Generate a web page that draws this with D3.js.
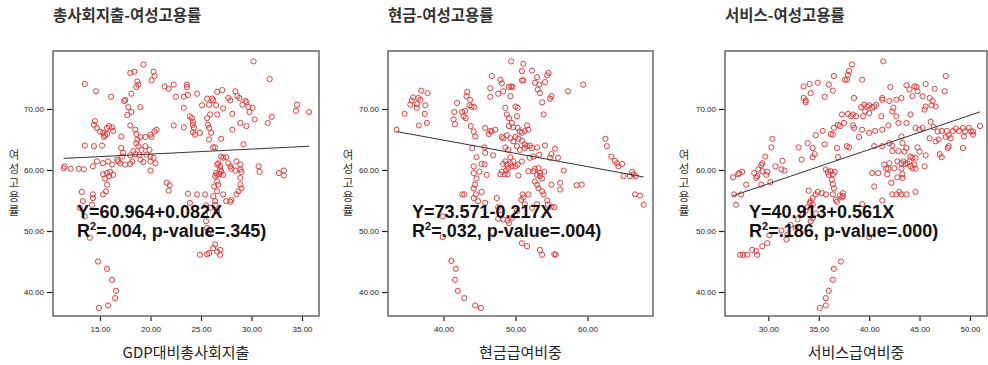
<!DOCTYPE html>
<html>
<head>
<meta charset="utf-8">
<script src="https://cdn.jsdelivr.net/npm/d3@7"></script>
<style>
  body { margin: 0; background: #fff; }
  svg { display: block; }
</style>
</head>
<body>
<svg id="chart" width="988" height="365"></svg>
<script>
// ---- data ----
const titles = ["총사회지출-여성고용률", "현금-여성고용률", "서비스-여성고용률"];
const xLabels = ["GDP대비총사회지출", "현금급여비중", "서비스급여비중"];
const yLabel = "여성고용률";
const yTicks = [40, 50, 60, 70];
const xTicks = [[15, 20, 25, 30, 35], [40, 50, 60], [30, 35, 40, 45, 50]];
const intercepts = [60.964, 73.571, 40.913];
const slopes = [0.082, -0.217, 0.561];
const eqTexts = ["Y=60.964+0.082X", "Y=73.571-0.217X", "Y=40.913+0.561X"];
const r2Texts = [".004", ".032", ".186"];
const pTexts = [".345", ".004", ".000"];

// 총사회지출 (% of GDP) vs 여성고용률
const spendPts = [
  [30.2,77.8],[19.3,77.3],[31.8,74.9],[18.0,75.9],[18.4,76.1],[20.3,76.1],[20.4,75.4],[20.1,74.7],[13.5,74.1],[14.6,72.9],
  [16.1,72.0],[18.7,74.5],[18.8,74.0],[18.6,73.6],[18.1,72.5],[17.5,71.5],[17.4,71.3],[17.8,70.3],[19.0,70.3],[21.4,73.7],
  [21.8,73.3],[22.3,74.0],[23.6,74.0],[23.6,73.6],[22.5,72.0],[23.3,72.0],[23.7,72.3],[24.6,72.5],[25.6,71.7],[26.1,71.7],
  [26.2,71.4],[26.6,72.8],[27.1,73.1],[25.1,70.6],[25.8,70.7],[26.5,70.6],[27.2,70.1],[27.7,71.8],[27.9,71.4],[28.4,72.9],
  [28.6,72.1],[28.8,71.8],[29.4,71.3],[29.5,71.1],[29.1,70.7],[29.7,70.3],[30.1,70.2],[29.8,69.5],[28.1,69.2],[30.3,68.3],
  [23.3,70.2],[23.9,68.8],[24.1,68.5],[25.9,69.1],[26.6,69.1],[34.5,70.7],[34.4,69.7],[35.7,69.5],[32.0,68.7],[31.6,67.7],
  [28.9,67.7],[29.5,67.2],[17.7,69.0],[18.1,69.5],
  [14.5,68.0],[14.4,67.4],[14.7,66.9],[15.0,66.3],[15.3,66.1],[15.5,65.7],[15.7,66.9],[15.9,67.2],[16.2,67.0],[16.3,66.4],
  [15.4,65.4],[15.7,65.9],[17.1,65.5],[18.0,67.3],[18.5,66.6],[18.6,65.9],[19.0,65.4],[19.5,65.4],[20.0,65.8],[20.4,66.3],
  [20.6,66.6],[20.1,65.4],[18.7,65.0],[18.6,64.4],[18.8,63.9],[19.1,63.3],[19.5,63.9],[19.9,63.3],[19.6,62.5],[20.0,62.2],
  [20.3,62.0],[17.1,63.6],[17.3,62.8],[17.2,62.2],[18.0,62.4],[18.3,63.1],[18.5,62.6],[18.9,62.5],[13.5,64.0],[14.4,63.9],
  [15.2,64.0],[22.3,67.3],[23.3,67.0],[24.2,67.9],[24.2,67.4],[24.3,66.9],[24.2,66.2],[24.4,65.8],[24.9,66.1],[25.6,68.5],
  [25.7,67.4],[25.8,66.9],[26.0,66.1],[25.8,65.0],[26.2,63.7],[26.4,63.7],[27.0,65.1],[28.1,66.6],[29.2,64.2],[27.0,62.2],
  [27.2,62.0],[27.5,62.1],
  [11.4,60.3],[11.5,60.6],[12.1,60.2],[12.9,60.2],[13.4,60.1],[14.3,60.6],[14.7,61.4],[15.3,61.1],[15.8,61.4],[16.2,60.9],
  [16.8,61.4],[16.7,61.7],[17.0,61.1],[17.5,60.9],[18.0,61.0],[18.2,61.4],[19.0,61.7],[19.3,61.3],[20.0,61.4],[20.5,61.1],
  [20.0,59.9],[15.3,59.3],[15.7,59.5],[16.0,59.7],[15.9,59.0],[16.3,59.2],[26.6,60.9],[26.7,61.1],[26.9,60.6],[26.9,60.1],
  [26.5,59.5],[26.6,59.2],[26.8,59.3],[27.0,59.7],[26.4,59.0],[27.2,59.2],[27.9,60.6],[27.7,61.1],[28.0,60.2],[28.4,59.9],
  [28.5,61.4],[28.9,60.9],[28.9,60.1],[29.0,59.7],[30.7,60.6],[30.8,59.7],[32.7,59.5],[33.2,59.9],[33.2,59.1],
  [15.5,58.6],[15.7,57.6],[15.6,56.5],[15.3,56.0],[14.3,56.0],[14.3,55.4],[13.2,56.4],[13.3,54.9],[14.2,54.3],[13.0,53.8],
  [13.5,52.4],[21.6,57.9],[21.9,57.5],[21.8,56.6],[23.7,56.1],[23.9,54.6],[24.6,56.0],[25.4,56.0],[25.5,54.2],[25.9,53.8],
  [26.2,55.7],[26.4,54.9],[26.4,54.3],[26.6,53.2],[26.3,57.3],[26.6,56.5],[26.6,58.1],[26.7,57.6],[27.2,56.0],[27.5,54.9],
  [27.9,54.8],[28.0,55.1],[28.5,56.0],[28.7,56.5],[28.9,57.6],[28.9,58.7],[29.0,57.0],
  [14.0,48.9],[25.4,52.7],[25.5,51.6],[25.6,50.5],[25.7,49.7],[26.2,47.2],[26.4,47.8],[24.9,46.1],[25.6,46.2],[25.8,46.4],
  [26.9,46.1],[26.9,46.9],[26.6,46.6],
  [14.8,45.0],[15.7,43.8],[16.2,42.0],[16.6,40.2],[16.5,39.0],[14.9,37.4],[15.8,37.8]
];

// 현금급여비중 vs 여성고용률
const cashPts = [
  [49.4,77.8],[51.1,77.4],[50.9,76.2],[52.3,76.3],[51.1,74.7],[50.9,74.7],[54.6,75.9],[54.4,75.5],[46.7,75.4],[47.9,74.8],
  [48.1,74.2],[49.4,73.7],[49.6,73.6],[49.1,73.6],[48.3,72.9],[47.6,72.5],[46.5,73.4],[46.5,72.0],[49.3,72.1],[53.0,75.2],
  [52.7,74.3],[53.3,74.0],[54.1,74.4],[53.1,73.2],[53.4,72.6],[55.0,72.1],[54.8,71.7],[53.7,71.1],[59.4,74.0],[57.3,72.9],
  [53.9,69.1],[36.9,73.0],[37.8,72.6],[36.5,71.8],[36.8,71.5],[35.8,71.9],[35.6,71.4],[35.4,70.7],[36.3,70.8],[36.3,70.2],
  [37.5,70.6],[37.4,69.2],[37.7,67.7],[36.6,67.3],[34.6,69.2],[33.5,66.6],[43.3,72.8],[43.2,72.1],[43.7,71.5],[43.6,70.6],
  [43.9,70.4],[44.3,70.3],[41.9,71.0],[41.5,69.5],[41.4,68.3],[41.6,67.5],[42.6,69.5],[43.0,69.7],[42.8,68.8],[43.1,68.5],
  [48.6,70.2],[48.8,69.1],[49.1,68.5],[49.5,67.7],[50.0,70.4],[50.3,70.2],[50.2,68.8],[49.1,67.2],[49.7,67.0],[50.3,66.9],
  [50.6,66.3],[50.9,66.1],[51.3,66.4],[51.6,67.3],[51.8,66.6],[48.8,65.7],[49.3,65.2],[50.0,65.4],[50.4,65.1],[50.9,64.8],
  [51.3,64.2],[51.6,63.9],[52.0,64.0],[52.3,63.6],[50.2,63.9],[50.6,63.3],[51.3,63.6],[48.1,65.4],[48.3,65.2],[48.6,63.7],
  [49.0,63.3],[49.7,64.7],[45.8,66.9],[46.5,66.4],[46.7,66.3],[46.3,65.9],[47.2,66.6],[43.8,67.2],[44.2,66.3],[44.4,65.5],
  [44.0,63.6],[44.6,62.1],[45.7,63.7],[45.8,62.8],[46.9,62.4],[44.2,60.6],[53.0,63.7],[54.1,64.0],[53.3,62.5],[55.0,62.6],
  [54.8,62.0],[55.5,63.5],[55.9,62.0],[52.0,62.0],[52.5,62.2],[62.5,65.1],[62.7,63.9],[63.3,62.2],[63.8,61.5],[64.1,61.1],
  [64.8,61.0],[64.3,60.6],[65.0,59.0],[66.2,59.7],[65.9,59.0],[66.4,59.3],[66.7,59.0],[66.6,56.0],[67.3,55.8],[67.8,54.3],
  [49.3,62.1],[48.6,61.4],[48.3,61.0],[48.8,60.9],[49.3,61.1],[49.7,61.4],[50.0,60.6],[49.5,60.6],[49.0,60.3],[48.7,59.9],
  [48.1,59.7],[47.9,59.3],[48.5,59.3],[48.9,59.3],[50.4,59.1],[50.3,60.9],[50.9,61.4],[51.8,59.8],[52.5,59.8],[52.7,60.2],
  [53.2,60.3],[53.4,59.5],[53.0,59.2],[53.4,59.0],[53.7,58.6],[52.7,58.1],[53.0,57.6],[53.2,57.0],[54.0,59.7],[55.0,57.6],
  [56.7,59.9],[56.2,57.9],[56.2,56.8],[58.5,57.5],[59.2,57.6],[46.0,59.2],[45.3,61.0],[45.0,59.7],[45.7,60.9],[44.2,59.5],
  [44.6,58.6],[44.4,57.6],[44.2,57.0],[44.5,56.0],[44.2,55.4],[45.3,56.4],[42.6,56.0],[42.9,56.0],[44.8,54.9],[45.8,54.6],
  [47.4,55.4],[47.6,53.9],[47.9,52.7],[47.6,52.0],[48.3,51.9],[48.9,51.7],[49.1,51.3],[49.6,52.2],[50.2,53.3],[50.8,55.1],
  [51.1,55.5],[51.0,56.0],[51.8,56.0],[51.3,54.4],[52.3,53.8],[53.0,54.4],[53.7,56.5],[53.9,56.0],[54.4,55.0],[54.5,54.3],
  [55.0,54.0],[55.4,53.9],[39.9,52.4],[39.9,49.0],[50.9,48.0],[51.6,47.5],[53.4,46.9],[53.7,46.1],[55.4,46.2],[55.6,46.1],
  [41.1,45.1],[41.7,43.8],[41.6,42.0],[42.0,40.2],[42.9,39.0],[44.4,37.8],[45.2,37.4]
];

// 서비스급여비중 vs 여성고용률
const servicePts = [
  [41.4,77.8],[38.3,77.3],[38.0,76.2],[37.9,75.6],[37.6,74.8],[37.8,74.8],[39.3,74.8],[36.5,75.4],[36.0,74.0],[36.4,73.0],
  [35.6,72.0],[34.9,74.3],[34.1,74.1],[33.5,73.7],[34.2,72.6],[33.5,71.8],[33.7,71.4],[33.7,71.1],[39.5,70.7],[39.8,70.4],
  [40.0,70.6],[40.3,70.2],[40.5,70.4],[39.2,70.3],[39.6,69.6],[40.0,69.3],[41.3,71.8],[41.3,71.5],[42.1,73.6],[42.7,71.5],
  [43.2,71.8],[43.7,73.9],[44.0,73.2],[44.5,73.7],[44.7,73.6],[44.8,72.9],[44.3,72.1],[45.6,74.1],[45.3,72.1],[46.0,71.8],
  [46.3,71.3],[46.5,73.3],[47.5,72.9],[47.6,75.4],[46.2,70.6],[46.6,70.4],[45.6,70.4],[45.5,69.9],[44.1,69.1],[42.9,67.7],
  [42.7,68.8],[42.4,70.2],[42.3,69.6],[42.0,71.3],[40.7,70.7],[38.5,71.8],[38.4,69.1],[38.2,68.8],[37.9,69.2],[37.3,69.1],
  [36.9,67.4],[36.5,66.9],[37.1,67.2],[37.5,67.7],[38.4,67.3],[38.5,66.9],[39.3,66.6],[40.0,66.1],[39.0,65.4],[36.4,65.8],
  [36.2,65.9],[35.4,66.4],[34.7,65.7],[35.6,64.2],[36.8,63.6],[37.8,63.9],[38.0,63.7],[36.9,62.1],[38.7,68.8],[39.4,68.8],
  [41.2,68.8],[41.9,67.3],[41.3,66.6],[40.6,66.4],[41.3,63.9],[40.5,63.9],[42.0,64.4],[42.3,64.0],[43.2,65.5],[43.3,64.4],
  [43.7,63.6],[43.5,63.0],[44.8,63.7],[45.0,63.0],[44.1,62.2],[45.6,62.4],[44.6,66.9],[45.0,66.6],[45.3,66.9],[46.1,67.9],
  [46.4,67.0],[46.8,66.3],[47.2,66.4],[47.7,66.4],[47.9,65.7],[48.3,66.4],[48.6,66.8],[48.9,66.4],[49.3,66.9],[49.5,66.3],
  [49.9,66.9],[50.3,66.3],[51.0,67.2],[49.4,65.5],[50.3,65.8],[50.1,66.3],[47.6,65.4],[48.1,65.2],[47.9,63.9],[46.9,65.0],
  [46.0,65.2],[46.6,64.7],[47.0,62.6],[47.2,62.1],[49.3,63.6],[47.8,63.6],[43.7,67.7],
  [26.5,58.8],[27.0,59.3],[27.1,59.5],[27.4,59.7],[27.8,57.6],[26.6,56.0],[26.8,54.3],[27.3,56.0],[28.6,59.5],[28.9,59.0],
  [28.8,58.7],[29.0,60.1],[29.4,61.1],[29.7,62.2],[29.3,60.8],[29.4,59.8],[29.9,59.7],[29.8,59.2],[29.3,57.6],[30.2,58.0],
  [30.3,63.7],[30.4,65.1],[30.7,60.6],[31.3,60.1],[31.6,59.9],[31.4,61.5],[33.0,63.7],[33.3,61.7],[33.9,64.4],[34.4,63.6],
  [34.6,62.6],[34.4,62.1],
  [35.7,60.1],[35.9,59.7],[36.0,59.2],[36.2,59.8],[36.4,59.3],[36.6,59.7],[36.3,58.4],[36.4,57.7],[36.5,57.0],[36.4,56.0],
  [37.1,55.8],[37.3,55.5],[37.4,55.7],[37.4,56.2],[36.7,55.1],[36.8,54.8],[35.7,56.0],[35.3,56.2],[34.9,56.4],[34.7,56.0],
  [34.4,55.4],[34.2,54.9],[34.4,54.3],[34.1,54.6],[33.9,53.9],[34.0,56.6],[33.7,53.3],[34.7,52.9],[34.2,51.6],[34.4,52.1],
  [33.4,52.7],[32.9,51.9],[32.7,50.5],[31.9,49.4],[31.8,48.6],[31.3,50.1],[32.2,51.0],
  [40.3,59.5],[40.9,59.5],[40.5,57.3],[41.8,59.3],[42.0,61.1],[42.8,61.4],[43.2,61.1],[43.4,61.4],[43.6,61.0],[43.8,61.1],
  [44.0,61.4],[44.1,60.6],[44.3,60.3],[44.5,60.9],[44.6,60.2],[44.3,62.0],[44.6,62.0],[43.2,60.2],[43.3,59.3],[42.8,58.8],
  [43.3,58.7],[41.9,60.2],[42.2,57.9],[42.3,56.0],[42.7,56.0],[43.0,56.4],[43.2,56.0],[43.7,56.0],[44.6,56.4],[45.5,60.6],
  [42.5,60.3],[41.5,60.9],[41.7,60.2],[41.3,55.0],[39.3,54.4],[40.0,49.0],[42.3,63.1],[42.9,63.1],
  [27.2,46.1],[27.5,46.1],[27.9,46.1],[28.4,46.9],[28.9,46.1],[28.8,46.7],[29.4,47.5],[29.9,48.0],[30.1,49.3],
  [36.5,43.8],[37.2,45.0],[36.4,42.0],[36.0,40.2],[35.7,39.0],[35.1,37.4],[35.7,37.8]
];

const series = [spendPts, cashPts, servicePts];

// ---- layout ----
const panels = [
  { left: 53,  right: 319, xDomain: [10.35, 36.68], eqX: 77,  yLabX: 14 },
  { left: 388, right: 653, xDomain: [32.3, 69.1],   eqX: 412, yLabX: 348 },
  { left: 725, right: 987, xDomain: [25.7, 51.69],  eqX: 749, yLabX: 684 }
];
const plotTop = 51, plotBottom = 316;
const krFont = "'Noto Sans CJK KR', 'Noto Sans', sans-serif";
const numFont = "'Liberation Sans', Arial, sans-serif";

const svg = d3.select("#chart");
const y = d3.scaleLinear().domain([36.07, 79.5]).range([plotBottom, plotTop]);
const fmt = d3.format(".2f");

panels.forEach((p, i) => {
  const x = d3.scaleLinear().domain(p.xDomain).range([p.left, p.right]);
  const g = svg.append("g");

  // title
  g.append("text")
    .attr("x", p.left).attr("y", 21)
    .attr("font-family", krFont).attr("font-size", 15.5).attr("font-weight", "bold")
    .attr("fill", "#333")
    .text(titles[i]);

  // axes
  const yAxis = g.append("g")
    .attr("transform", `translate(${p.left},0)`)
    .call(d3.axisLeft(y).tickValues(yTicks).tickFormat(fmt).tickSize(6).tickPadding(3));
  const xAxis = g.append("g")
    .attr("transform", `translate(0,${plotBottom})`)
    .call(d3.axisBottom(x).tickValues(xTicks[i]).tickFormat(fmt).tickSize(5).tickPadding(5));
  [yAxis, xAxis].forEach(a => {
    a.select(".domain").remove();
    a.selectAll("line").attr("stroke", "#222").attr("stroke-width", 1.2);
    a.selectAll("text").attr("font-family", numFont).attr("font-size", 8)
      .attr("fill", "#222");
  });

  // frame
  g.append("rect")
    .attr("x", p.left).attr("y", plotTop)
    .attr("width", p.right - p.left).attr("height", plotBottom - plotTop)
    .attr("fill", "none").attr("stroke", "#666").attr("stroke-width", 1.5);

  // points
  g.append("g")
    .selectAll("circle")
    .data(series[i])
    .join("circle")
    .attr("cx", d => x(d[0]))
    .attr("cy", d => y(d[1]))
    .attr("r", 2.6)
    .attr("fill", "none")
    .attr("stroke", "#e33b3b")
    .attr("stroke-width", 1);

  // fit line
  const ext = d3.extent(series[i], d => d[0]);
  g.append("path")
    .datum(ext.map(v => [v, intercepts[i] + slopes[i] * v]))
    .attr("d", d3.line().x(d => x(d[0])).y(d => y(d[1])))
    .attr("stroke", "#333").attr("stroke-width", 1).attr("fill", "none");

  // equation
  g.append("text")
    .attr("x", p.eqX).attr("y", 218)
    .attr("font-family", numFont).attr("font-size", 18).attr("font-weight", "bold")
    .attr("fill", "#111")
    .text(eqTexts[i]);
  const t2 = g.append("text")
    .attr("x", p.eqX).attr("y", 237)
    .attr("font-family", numFont).attr("font-size", 18).attr("font-weight", "bold")
    .attr("fill", "#111");
  t2.append("tspan").text("R");
  t2.append("tspan").attr("font-size", 11).attr("dy", -7).text("2");
  t2.append("tspan").attr("dy", 7).text(`=${r2Texts[i]}, p-value=${pTexts[i]})`);

  // x label
  g.append("text")
    .attr("x", (p.left + p.right) / 2).attr("y", 358)
    .attr("text-anchor", "middle")
    .attr("font-family", krFont).attr("font-size", 15)
    .attr("fill", "#222")
    .text(xLabels[i]);

  // y label, one upright character per line
  g.append("g")
    .selectAll("text")
    .data(Array.from(yLabel))
    .join("text")
    .attr("x", p.yLabX)
    .attr("y", (d, k) => 159 + k * 14)
    .attr("text-anchor", "middle")
    .attr("font-family", krFont).attr("font-size", 11.5)
    .attr("fill", "#333")
    .text(d => d);
});
</script>
</body>
</html>
